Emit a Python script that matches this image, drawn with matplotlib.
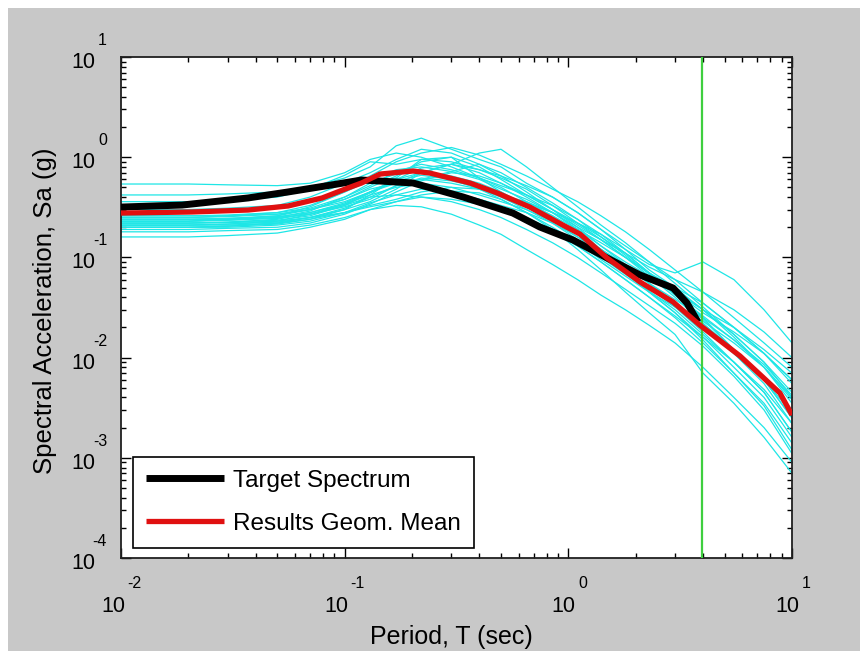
import matplotlib
matplotlib.use("Agg")
import math
import matplotlib.pyplot as plt
from matplotlib.patches import Rectangle
from matplotlib.ticker import FixedLocator, LogLocator, NullFormatter

plt.rcParams['font.family'] = ['Liberation Sans', 'DejaVu Sans']

# ---------------- data ----------------
# Target spectrum (black)
target_T = [0.01, 0.01875, 0.037, 0.0559, 0.0877, 0.119, 0.144, 0.202, 0.338,
            0.565, 0.746, 1.05, 1.49, 2.09, 2.94, 3.39, 3.80]
target_Sa = [0.318, 0.333, 0.392, 0.450, 0.529, 0.592, 0.578, 0.553, 0.401,
             0.277, 0.201, 0.149, 0.0987, 0.0668, 0.0495, 0.0351, 0.0226]

# Geometric mean of results (red)
mean_T = [0.01, 0.0208, 0.037, 0.0559, 0.0793, 0.1035, 0.119, 0.144, 0.202, 0.240,
          0.363, 0.480, 0.673, 0.946, 1.127, 1.49, 2.09, 2.94, 3.87, 5.85, 8.83, 10.0]
mean_Sa = [0.277, 0.284, 0.297, 0.326, 0.392, 0.493, 0.553, 0.679, 0.728, 0.695,
           0.553, 0.440, 0.318, 0.210, 0.171, 0.0987, 0.0569, 0.0359, 0.0211,
           0.0104, 0.00443, 0.00267]

# Individual record spectra (cyan)
rec_T = [0.01, 0.02, 0.03, 0.05, 0.07, 0.1, 0.13, 0.17, 0.22, 0.3, 0.4, 0.5,
         0.65, 0.85, 1.1, 1.4, 1.8, 2.3, 3.0, 4.0, 5.5, 7.5, 10.0]
rec01 = [0.54, 0.54, 0.53, 0.52, 0.55, 0.70, 0.95, 1.10, 1.00, 0.80, 0.62, 0.50, 0.36, 0.26, 0.17, 0.11, 0.075, 0.05, 0.032, 0.018, 0.009, 0.0045, 0.0018]
rec02 = [0.42, 0.42, 0.43, 0.45, 0.50, 0.62, 0.80, 1.30, 1.55, 1.20, 0.95, 0.80, 0.55, 0.40, 0.28, 0.19, 0.12, 0.075, 0.05, 0.03, 0.016, 0.008, 0.0035]
rec03 = [0.36, 0.36, 0.37, 0.40, 0.48, 0.66, 0.90, 0.85, 0.95, 0.90, 0.75, 0.62, 0.48, 0.33, 0.22, 0.15, 0.10, 0.07, 0.05, 0.035, 0.02, 0.011, 0.006]
rec04 = [0.30, 0.30, 0.31, 0.33, 0.40, 0.55, 0.70, 0.95, 1.20, 1.10, 0.85, 0.65, 0.45, 0.30, 0.20, 0.13, 0.085, 0.055, 0.035, 0.022, 0.012, 0.0065, 0.003]
rec05 = [0.25, 0.25, 0.26, 0.28, 0.33, 0.45, 0.60, 0.75, 0.80, 0.72, 0.60, 0.48, 0.38, 0.28, 0.19, 0.13, 0.09, 0.065, 0.048, 0.03, 0.017, 0.009, 0.0045]
rec06 = [0.24, 0.24, 0.245, 0.26, 0.30, 0.38, 0.48, 0.55, 0.60, 0.55, 0.48, 0.40, 0.30, 0.22, 0.15, 0.10, 0.068, 0.046, 0.03, 0.017, 0.009, 0.0045, 0.0018]
rec07 = [0.23, 0.23, 0.235, 0.25, 0.29, 0.40, 0.55, 0.68, 0.75, 0.62, 0.50, 0.42, 0.35, 0.28, 0.22, 0.17, 0.12, 0.085, 0.07, 0.09, 0.06, 0.03, 0.014]
rec08 = [0.22, 0.22, 0.225, 0.24, 0.28, 0.35, 0.45, 0.60, 0.70, 0.65, 0.55, 0.45, 0.32, 0.23, 0.16, 0.11, 0.07, 0.045, 0.028, 0.015, 0.007, 0.0033, 0.0012]
rec09 = [0.21, 0.21, 0.215, 0.23, 0.27, 0.34, 0.42, 0.50, 0.55, 0.50, 0.42, 0.36, 0.30, 0.23, 0.17, 0.12, 0.08, 0.055, 0.038, 0.025, 0.015, 0.008, 0.004]
rec10 = [0.20, 0.20, 0.205, 0.22, 0.25, 0.31, 0.40, 0.52, 0.62, 0.58, 0.50, 0.42, 0.34, 0.26, 0.19, 0.14, 0.10, 0.07, 0.045, 0.028, 0.018, 0.011, 0.006]
rec11 = [0.20, 0.20, 0.20, 0.21, 0.23, 0.28, 0.35, 0.42, 0.48, 0.45, 0.38, 0.32, 0.25, 0.19, 0.13, 0.09, 0.06, 0.04, 0.025, 0.014, 0.007, 0.0035, 0.0014]
rec12 = [0.19, 0.19, 0.195, 0.20, 0.22, 0.27, 0.34, 0.45, 0.58, 0.70, 0.65, 0.55, 0.42, 0.30, 0.21, 0.15, 0.10, 0.065, 0.04, 0.022, 0.011, 0.0055, 0.0022]
rec13 = [0.22, 0.22, 0.225, 0.235, 0.26, 0.33, 0.40, 0.42, 0.40, 0.36, 0.30, 0.25, 0.19, 0.14, 0.10, 0.07, 0.048, 0.033, 0.022, 0.013, 0.0065, 0.003, 0.0011]
rec14 = [0.16, 0.16, 0.165, 0.175, 0.20, 0.24, 0.30, 0.36, 0.40, 0.38, 0.34, 0.30, 0.24, 0.18, 0.13, 0.09, 0.06, 0.04, 0.026, 0.016, 0.009, 0.0048, 0.0022]
rec15 = [0.23, 0.23, 0.24, 0.26, 0.32, 0.45, 0.58, 0.62, 0.55, 0.45, 0.38, 0.33, 0.28, 0.22, 0.16, 0.12, 0.085, 0.06, 0.045, 0.03, 0.02, 0.012, 0.007]
rec16 = [0.21, 0.21, 0.215, 0.225, 0.25, 0.30, 0.36, 0.48, 0.70, 0.85, 0.70, 0.55, 0.40, 0.28, 0.19, 0.12, 0.075, 0.045, 0.028, 0.016, 0.008, 0.004, 0.0016]
rec17 = [0.25, 0.25, 0.255, 0.27, 0.30, 0.38, 0.50, 0.65, 0.90, 1.00, 0.80, 0.60, 0.42, 0.30, 0.22, 0.16, 0.11, 0.07, 0.045, 0.025, 0.012, 0.006, 0.0025]
rec18 = [0.20, 0.20, 0.205, 0.215, 0.24, 0.28, 0.33, 0.38, 0.45, 0.50, 0.48, 0.42, 0.36, 0.28, 0.20, 0.15, 0.11, 0.08, 0.06, 0.045, 0.03, 0.018, 0.01]
rec19 = [0.23, 0.23, 0.235, 0.245, 0.27, 0.33, 0.44, 0.58, 0.66, 0.60, 0.48, 0.38, 0.28, 0.20, 0.14, 0.095, 0.065, 0.045, 0.032, 0.023, 0.014, 0.008, 0.0038]
rec20 = [0.26, 0.26, 0.265, 0.28, 0.31, 0.40, 0.52, 0.72, 0.85, 0.75, 0.62, 0.52, 0.42, 0.33, 0.24, 0.17, 0.11, 0.07, 0.043, 0.024, 0.012, 0.006, 0.0025]
rec21 = [0.22, 0.22, 0.222, 0.23, 0.25, 0.28, 0.32, 0.36, 0.42, 0.46, 0.44, 0.38, 0.28, 0.19, 0.12, 0.075, 0.045, 0.028, 0.017, 0.007, 0.0035, 0.0016, 0.0007]
rec22 = [0.24, 0.24, 0.245, 0.255, 0.28, 0.34, 0.45, 0.60, 0.78, 0.85, 0.75, 0.65, 0.52, 0.40, 0.28, 0.19, 0.13, 0.09, 0.06, 0.035, 0.02, 0.011, 0.0055]
rec23 = [0.18, 0.18, 0.185, 0.19, 0.21, 0.25, 0.30, 0.33, 0.32, 0.27, 0.21, 0.17, 0.12, 0.085, 0.06, 0.042, 0.03, 0.021, 0.014, 0.008, 0.004, 0.002, 0.0009]
rec24 = [0.28, 0.28, 0.29, 0.31, 0.36, 0.48, 0.65, 0.90, 1.10, 1.25, 1.05, 0.85, 0.65, 0.48, 0.36, 0.26, 0.18, 0.12, 0.075, 0.045, 0.025, 0.014, 0.008]
rec25 = [0.21, 0.21, 0.21, 0.22, 0.24, 0.30, 0.42, 0.62, 0.95, 1.00, 0.62, 0.45, 0.33, 0.24, 0.17, 0.12, 0.082, 0.055, 0.036, 0.02, 0.011, 0.006, 0.0028]
rec26 = [0.24, 0.24, 0.24, 0.25, 0.27, 0.32, 0.38, 0.52, 0.60, 0.72, 0.85, 0.70, 0.50, 0.35, 0.24, 0.16, 0.105, 0.068, 0.042, 0.026, 0.015, 0.0085, 0.0042]
rec27 = [0.26, 0.26, 0.26, 0.27, 0.30, 0.36, 0.45, 0.55, 0.70, 0.85, 1.10, 1.20, 0.80, 0.50, 0.32, 0.21, 0.14, 0.09, 0.055, 0.032, 0.017, 0.009, 0.004]
records = [rec01, rec02, rec03, rec04, rec05, rec06, rec07, rec08, rec09, rec10, rec11,
           rec12, rec13, rec14, rec15, rec16, rec17, rec18, rec19, rec20, rec21, rec22,
           rec23, rec24, rec25, rec26, rec27]

period_limit = 3.95  # vertical green line
x_ticks = [0.01, 0.1, 1, 10]
y_ticks = [1e-4, 1e-3, 1e-2, 1e-1, 1e0, 1e1]
labels_legend = ["Target Spectrum", "Results Geom. Mean"]
xlabel = "Period, T (sec)"
ylabel = "Spectral Acceleration, Sa (g)"

# ---------------- figure ----------------
W, H = 860, 651
PX = 0.72  # points per pixel at dpi 100
fig = plt.figure(figsize=(W / 100, H / 100), dpi=100)
fig.patch.set_facecolor('white')
fig.add_artist(Rectangle((8 / W, 0), 1 - 8 / W, 1 - 8 / H, transform=fig.transFigure,
                         facecolor='#c8c8c8', edgecolor='none', zorder=-10))

ax = fig.add_axes([121 / W, 1 - 558 / H, (792 - 121) / W, (558 - 57) / H])
ax.set_facecolor('white')

for rec in records:
    ax.plot(rec_T, rec, color='#1ee6e6', lw=0.9, zorder=2)

ax.axvline(period_limit, color='#3fcf3f', lw=1.6, zorder=3)
h1, = ax.plot(target_T, target_Sa, color='black', lw=5.0, zorder=4,
              solid_capstyle='butt', label=labels_legend[0])
h2, = ax.plot(mean_T, mean_Sa, color='#e01010', lw=3.8, zorder=5,
              solid_capstyle='butt', label=labels_legend[1])

ax.set_xscale('log')
ax.set_yscale('log')
ax.set_xlim(0.01, 10)
ax.set_ylim(1e-4, 10)

ax.xaxis.set_major_locator(FixedLocator(x_ticks))
ax.yaxis.set_major_locator(FixedLocator(y_ticks))
ax.xaxis.set_minor_locator(LogLocator(base=10, subs=range(2, 10), numticks=20))
ax.yaxis.set_minor_locator(LogLocator(base=10, subs=range(2, 10), numticks=20))
ax.xaxis.set_major_formatter(NullFormatter())
ax.yaxis.set_major_formatter(NullFormatter())
ax.xaxis.set_minor_formatter(NullFormatter())
ax.yaxis.set_minor_formatter(NullFormatter())

ax.tick_params(which='both', direction='in', top=True, right=True, width=1.0, color='black')
ax.tick_params(which='major', length=7)
ax.tick_params(which='minor', length=3.5)
for sp in ax.spines.values():
    sp.set_linewidth(1.3)
    sp.set_color('#202020')

# MATLAB-style tick labels: "10" with a raised exponent
BASE_FS, EXP_FS = 15.5, 11.5
for v in x_ticks:
    e = int(round(math.log10(v)))
    d1, d2 = (4, 6) if e < 0 else (7, 10)
    ax.annotate("10", xy=(v, 0), xycoords=ax.get_xaxis_transform(),
                xytext=(d1 * PX, -54 * PX), textcoords='offset points',
                ha='right', va='baseline', fontsize=BASE_FS, annotation_clip=False)
    ax.annotate(str(e), xy=(v, 0), xycoords=ax.get_xaxis_transform(),
                xytext=(d2 * PX, -30 * PX), textcoords='offset points',
                ha='left', va='baseline', fontsize=EXP_FS, annotation_clip=False)
for v in y_ticks:
    e = int(round(math.log10(v)))
    ax.annotate("10", xy=(0, v), xycoords=ax.get_yaxis_transform(),
                xytext=(-26 * PX, -11 * PX), textcoords='offset points',
                ha='right', va='baseline', fontsize=BASE_FS, annotation_clip=False)
    ax.annotate(str(e), xy=(0, v), xycoords=ax.get_yaxis_transform(),
                xytext=(-14 * PX, 12 * PX), textcoords='offset points',
                ha='right', va='baseline', fontsize=EXP_FS, annotation_clip=False)

ax.set_xlabel(xlabel, fontsize=18)
ax.set_ylabel(ylabel, fontsize=18.5)
ax.xaxis.set_label_coords(0.492, -0.134)
ax.yaxis.set_label_coords(-0.096, 0.493)

leg = ax.legend(handles=[h1, h2], loc='lower left', bbox_to_anchor=(0.018, 0.02),
                borderaxespad=0, fontsize=17.5, frameon=True, fancybox=False,
                edgecolor='black', framealpha=1, handlelength=3.2, handletextpad=0.35,
                labelspacing=0.85, borderpad=0.55)
leg.get_frame().set_linewidth(1.2)
leg.set_zorder(10)

fig.savefig('out.png', dpi=100, facecolor=fig.get_facecolor())
